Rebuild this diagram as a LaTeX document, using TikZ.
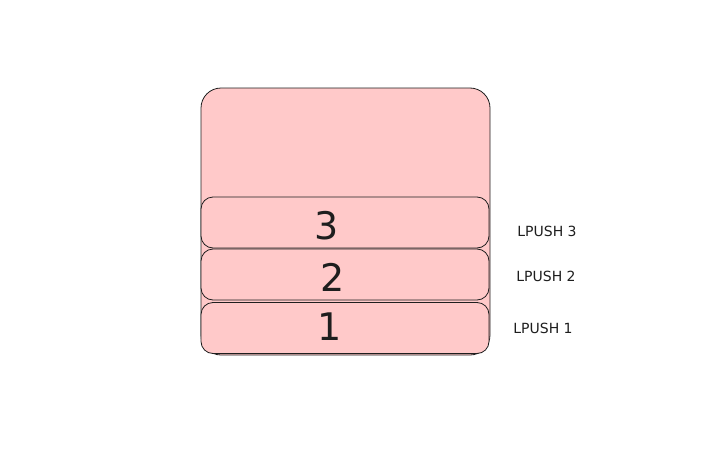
\documentclass[tikz,border=0pt]{standalone}
\usepackage{fontspec}
\setmainfont{DejaVu Sans}
\definecolor{boxpink}{HTML}{FFC9C9}
\definecolor{inkgray}{HTML}{1E1E1E}
\begin{document}
\begin{tikzpicture}[x=1pt, y=-1pt,
    container/.style ={rectangle, draw=inkgray, fill=boxpink, line width=0.8pt,
      rounded corners=20pt, minimum width=289pt, minimum height=267pt, inner sep=0pt},
    element/.style ={rectangle, draw=inkgray, fill=boxpink, line width=0.8pt,
      rounded corners=12pt, minimum width=288pt, minimum height=51pt, inner sep=0pt},
    digit/.style ={font=\fontsize{38}{38}\selectfont, text=inkgray},
    command/.style ={font=\fontsize{14}{14}\selectfont, text=inkgray}]
   \useasboundingbox (0,0) rectangle (707,471);
   \node[container] (S) at (345.5,221.5) {};
   \node[element] (E3) at (345,222.5) {};
   \node[element] (E2) at (345,274.5) {};
   \node[element] (E1) at (345,328) {};
   \node[digit] (D3) at (327,226) {3};
   \node[digit] (D2) at (333,277) {2};
   \node[digit] (D1) at (330,327) {1};
   \node[command] (L3) at (547,231) {LPUSH 3};
   \node[command] (L2) at (546,276) {LPUSH 2};
   \node[command] (L1) at (543,328) {LPUSH 1};
\end{tikzpicture}
\end{document}
